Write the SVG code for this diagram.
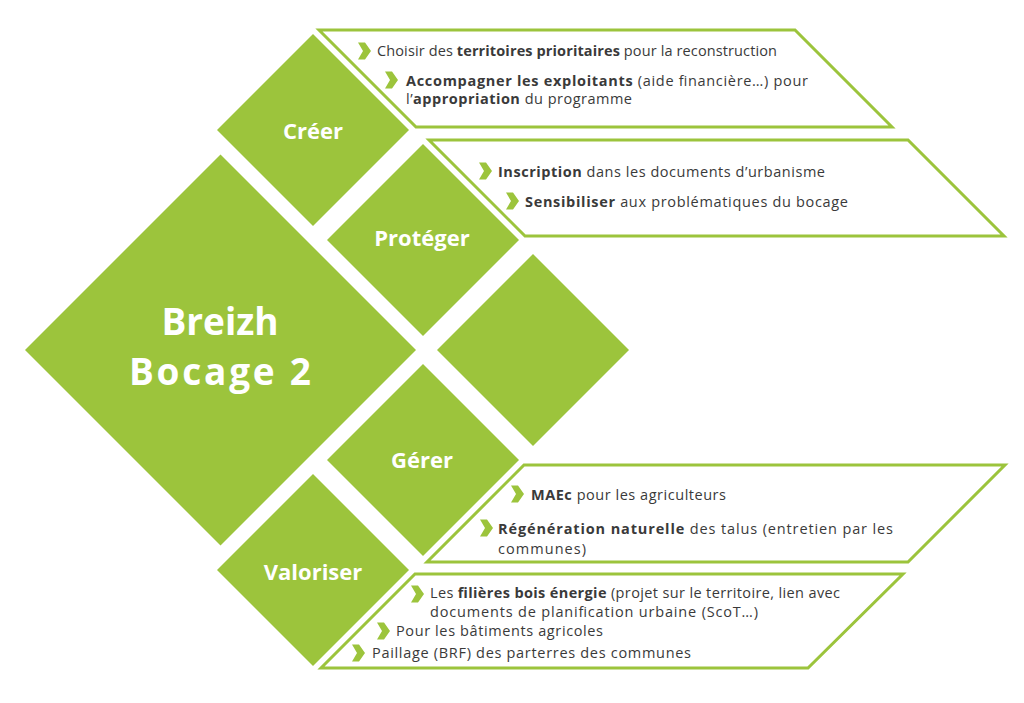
<svg xmlns="http://www.w3.org/2000/svg" width="1024" height="703" viewBox="0 0 1024 703">
<style>
.dia{fill:#9CC43C}
.para{fill:#fff;stroke:#9CC43C;stroke-width:3;stroke-linejoin:miter}
.lbl{font-family:"Open Sans","Liberation Sans",sans-serif;font-weight:700;fill:#fff;text-anchor:middle}
.txt{font-family:"Open Sans","Liberation Sans",sans-serif;font-size:14.5px;fill:#3a3a3a}
.b{font-weight:700}
.chev{fill:#9CC43C}
</style>
<defs>
<path id="chev" d="M0,-8.5 L7,-8.5 L13,0 L7,8.5 L0,8.5 L5,0 Z"/>
</defs>
<rect width="1024" height="703" fill="#fff"/>

<g id="creer-panel">
<polygon class="para" points="319,30 795,30 892,127 416,127"/>
<use href="#chev" class="chev" x="358" y="51"/>
<text class="txt" x="377" y="56" textLength="400">Choisir des <tspan class="b">territoires prioritaires</tspan> pour la reconstruction</text>
<use href="#chev" class="chev" x="385" y="80"/>
<text class="txt" x="406" y="86" textLength="402"><tspan class="b">Accompagner les exploitants</tspan> (aide financière…) pour</text>
<text class="txt" x="406" y="104" textLength="226">l’<tspan class="b">appropriation</tspan> du programme</text>
</g>

<g id="proteger-panel">
<polygon class="para" points="429,140 908,140 1004,236 525,236"/>
<use href="#chev" class="chev" x="479" y="171"/>
<text class="txt" x="498" y="177" textLength="327"><tspan class="b">Inscription</tspan> dans les documents d’urbanisme</text>
<use href="#chev" class="chev" x="506" y="201"/>
<text class="txt" x="525" y="207" textLength="323"><tspan class="b">Sensibiliser</tspan> aux problématiques du bocage</text>
</g>

<g id="gerer-panel">
<polygon class="para" points="524,465 1005,465 908,562 427,562"/>
<use href="#chev" class="chev" x="511" y="494"/>
<text class="txt" x="531" y="500" textLength="195"><tspan class="b">MAEc</tspan> pour les agriculteurs</text>
<use href="#chev" class="chev" x="480" y="528"/>
<text class="txt" x="498" y="534" textLength="395"><tspan class="b">Régénération naturelle</tspan> des talus (entretien par les</text>
<text class="txt" x="498" y="554" textLength="88">communes)</text>
</g>

<g id="valoriser-panel">
<polygon class="para" points="415,574 903,574 808,668 321,668"/>
<use href="#chev" class="chev" x="411" y="594"/>
<text class="txt" x="430" y="598" textLength="410">Les <tspan class="b">filières bois énergie</tspan> (projet sur le territoire, lien avec</text>
<text class="txt" x="430" y="617" textLength="328">documents de planification urbaine (ScoT…)</text>
<use href="#chev" class="chev" x="377" y="631"/>
<text class="txt" x="396" y="636" textLength="207">Pour les bâtiments agricoles</text>
<use href="#chev" class="chev" x="352" y="653"/>
<text class="txt" x="372" y="658" textLength="319">Paillage (BRF) des parterres des communes</text>
</g>

<g id="breizh">
<polygon class="dia" points="220.5,154.5 416,350 220.5,545.5 25,350"/>
<text class="lbl" x="220" y="335" font-size="37">Breizh</text>
<text class="lbl" x="220" y="385" font-size="37" textLength="182">Bocage 2</text>
</g>

<g id="creer">
<polygon class="dia" points="313,34 409,130 313,226 217,130"/>
<text class="lbl" x="313" y="139" font-size="22">Créer</text>
</g>

<g id="proteger">
<polygon class="dia" points="423,144 519,240 423,336 327,240"/>
<text class="lbl" x="422" y="246" font-size="22">Protéger</text>
</g>

<g id="vide">
<polygon class="dia" points="533,254 629,350 533,446 437,350"/>
</g>

<g id="gerer">
<polygon class="dia" points="423,364 519,460 423,556 327,460"/>
<text class="lbl" x="422" y="468" font-size="22">Gérer</text>
</g>

<g id="valoriser">
<polygon class="dia" points="313,474 409,570 313,666 217,570"/>
<text class="lbl" x="313" y="580" font-size="22">Valoriser</text>
</g>

<g id="connectors"></g>
</svg>
